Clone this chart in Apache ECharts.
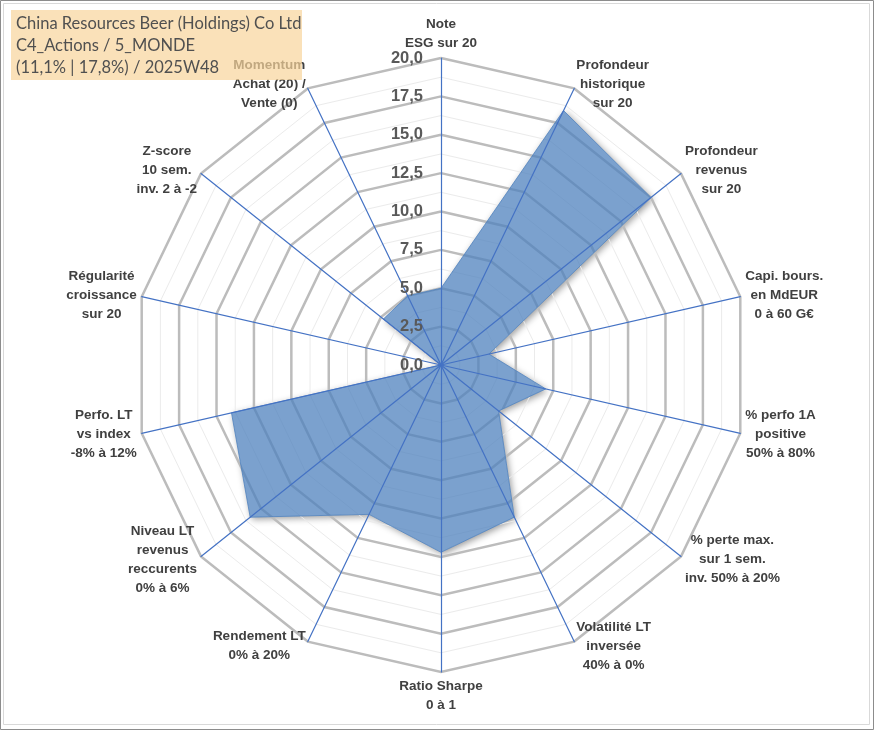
<!DOCTYPE html>
<html>
<head>
<meta charset="utf-8">
<script src="https://cdn.jsdelivr.net/npm/echarts@6/dist/echarts.min.js"></script>
<style>
html,body{margin:0;padding:0;background:#fff;}
#c{width:875px;height:731px;}
</style>
</head>
<body>
<div id="c"></div>
<script>
// Axes listed clockwise from the top, as in the reference
const categories = [
  "Note\nESG sur 20",
  "Profondeur\nhistorique\nsur 20",
  "Profondeur\nrevenus\nsur 20",
  "Capi. bours.\nen MdEUR\n0 à 60 G€",
  "% perfo 1A\npositive\n50% à 80%",
  "% perte max.\nsur 1 sem.\ninv. 50% à 20%",
  "Volatilité LT\ninversée\n40% à 0%",
  "Ratio Sharpe\n0 à 1",
  "Rendement LT\n0% à 20%",
  "Niveau LT\nrevenus\nreccurents\n0% à 6%",
  "Perfo. LT\nvs index\n-8% à 12%",
  "Régularité\ncroissance\nsur 20",
  "Z-score\n10 sem.\ninv. 2 à -2",
  "Momentum\nAchat (20) /\nVente (0)"
];
const values = [5.0, 18.4, 17.5, 3.2, 7.0, 4.8, 11.0, 12.2, 10.8, 15.9, 14.0, 0.0, 4.8, 5.0];
const scaleMin = 0;
const scaleMax = 20;
const scaleSplits = 8;
const titleLines = [
  "China Resources Beer (Holdings) Co Ltd",
  "C4_Actions / 5_MONDE",
  "(11,1% | 17,8%) / 2025W48"
];

// ECharts lays indicators counter-clockwise: keep first, reverse the rest
const order = [0].concat(categories.map((_, i) => i).slice(1).reverse());
const indicators = order.map(i => ({ name: categories[i], min: scaleMin, max: scaleMax }));
const seriesValues = order.map(i => values[i]);

const CENTER = [441, 365];
const RADIUS = 307;
const base = { center: CENTER, radius: RADIUS, startAngle: 90, shape: 'polygon', indicator: indicators };
const off = { show: false };
const NAME_FONT = { color: '#404040', fontWeight: 'bold', fontSize: 13.5, fontFamily: 'Liberation Sans', lineHeight: 19 };

const chart = echarts.init(document.getElementById('c'), null, { renderer: 'canvas' });
chart.setOption({
  animation: false,
  backgroundColor: '#ffffff',
  radar: [
    Object.assign({}, base, {
      z: 0, splitNumber: scaleSplits * 2,
      splitLine: { lineStyle: { color: '#EBEBEB', width: 1 } },
      splitArea: off, axisLine: off, axisTick: off, axisLabel: off, axisName: off
    }),
    Object.assign({}, base, {
      z: 1, splitNumber: scaleSplits,
      splitLine: { lineStyle: { color: '#BCBCBC', width: 2.5 } },
      splitArea: off, axisLine: off, axisTick: off, axisLabel: off, axisName: off
    }),
    Object.assign({}, base, {
      z: 3, splitNumber: scaleSplits,
      splitLine: off, splitArea: off, axisTick: off, axisLabel: off,
      axisLine: { show: true, lineStyle: { color: '#4472C4', width: 1.2 } },
      nameGap: 5,
      axisName: Object.assign({
        show: true,
        formatter: (name) => name.split('\n').map(l => '{c|' + l + '}').join('\n'),
        rich: { c: Object.assign({ align: 'center' }, NAME_FONT) }
      }, NAME_FONT)
    }),
    {
      center: CENTER, radius: RADIUS, startAngle: 90, shape: 'polygon', z: 4,
      indicator: [{ name: '', min: scaleMin, max: scaleMax }],
      splitNumber: scaleSplits,
      splitLine: off, splitArea: off, axisLine: off, axisTick: off, axisName: off,
      axisLabel: {
        show: true, color: '#595959', fontWeight: 'bold', fontSize: 16.5, fontFamily: 'Liberation Sans', margin: 18,
        formatter: (v) => Number(v).toFixed(1).replace('.', ',')
      }
    }
  ],
  series: [
    {
      // soft drop shadow under the area, drawn beneath the grid
      type: 'radar', radarIndex: 0, z: -1, silent: true, symbol: 'none',
      lineStyle: { width: 0 },
      areaStyle: { opacity: 1, color: '#ffffff', shadowBlur: 7, shadowColor: 'rgba(0,0,0,0.4)', shadowOffsetX: 2, shadowOffsetY: 2 },
      data: [{ value: seriesValues, name: 'Score' }]
    },
    {
      type: 'radar', radarIndex: 1, z: 2, symbol: 'none',
      lineStyle: { color: 'rgba(79,129,189,0.8)', width: 1 },
      areaStyle: { opacity: 1, color: 'rgba(79,129,189,0.75)' },
      data: [{ value: seriesValues, name: 'Score' }]
    }
  ],
  graphic: [
    { type: 'rect', z: 100, silent: true, shape: { x: 0.5, y: 0.5, width: 873, height: 729 }, style: { fill: 'none', stroke: '#8C8C8C', lineWidth: 1 } },
    { type: 'rect', z: 100, silent: true, shape: { x: 3.5, y: 3.5, width: 866, height: 721 }, style: { fill: 'none', stroke: '#D9D9D9', lineWidth: 1 } },
    { type: 'rect', z: 100, silent: true, shape: { x: 11, y: 10, width: 291, height: 70 }, style: { fill: 'rgba(248,212,155,0.7)' } },
    { type: 'text', z: 101, silent: true, left: 16, top: 13,
      style: { text: titleLines.join('\n'), fill: '#505050', font: '16.5px Lato', lineHeight: 22 } }
  ]
});
</script>
</body>
</html>
